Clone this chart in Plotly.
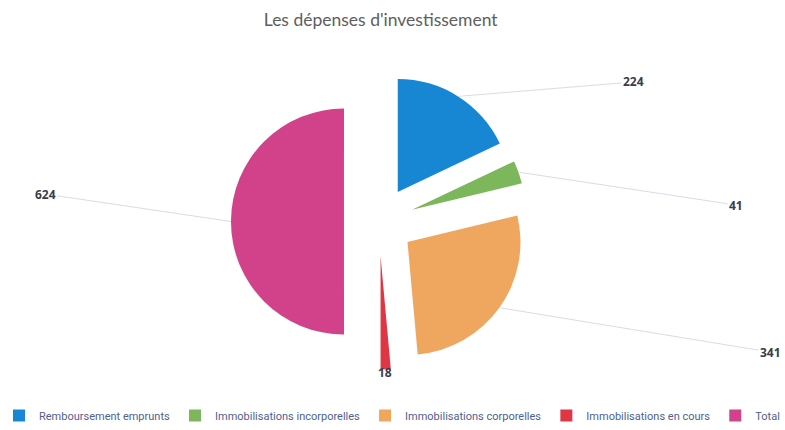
import math
import plotly.graph_objects as go

# ---- data ----
categories = ["Remboursement emprunts", "Immobilisations incorporelles",
              "Immobilisations corporelles", "Immobilisations en cours", "Total"]
values = [224, 41, 341, 18, 624]

# ---- style ----
colors = ["#1786D3", "#7DB75C", "#EFA65E", "#DE3645", "#D1428A"]
W, H = 785, 430
MB = 26                   # bottom margin (legend lives there)
HP = H - MB               # plot-area height
CX, CY = 379, 221.5       # pie centre (px from top-left)
R = 113                   # pie radius (px)
PULL = 0.31
label_pos = [(633, 82), (736, 205), (770, 352), (385, 383), (45, 194)]
show_line = [True, True, True, False, True]

half = R * (1 + PULL)
domain_x = [(CX - half) / W, (CX + half) / W]
domain_y = [(HP - CY - half) / HP, (HP - CY + half) / HP]

fig = go.Figure(go.Pie(
    labels=categories, values=values, sort=False, direction="clockwise",
    rotation=0, pull=[PULL] * len(values), textinfo="none",
    marker=dict(colors=colors, line=dict(width=0)),
    domain=dict(x=domain_x, y=domain_y), hoverinfo="label+value",
))

# leader lines + value labels, anchored on each slice's mid-angle
total = sum(values)
cum = 0
annotations = []
for v, (lx, ly), line in zip(values, label_pos, show_line):
    mid = (cum + v / 2) / total * 2 * math.pi
    cum += v
    dx, dy = math.sin(mid), -math.cos(mid)
    ex = CX + dx * R * (1 + PULL)
    ey = CY + dy * R * (1 + PULL)
    font = dict(family="Open Sans", size=12, color="#3A3D4D", weight="bold")
    if line:
        annotations.append(dict(
            x=ex / W, y=(HP - ey) / HP, xref="paper", yref="paper",
            ax=lx - ex, ay=ly - ey, axref="pixel", ayref="pixel",
            text=str(v), showarrow=True, arrowhead=0, arrowwidth=1,
            arrowcolor="#D8DCE8", standoff=0, font=font,
        ))
    else:
        annotations.append(dict(
            x=lx / W, y=(HP - ly) / HP, xref="paper", yref="paper",
            text=str(v), showarrow=False, font=font,
        ))

fig.update_layout(
    width=W, height=H,
    margin=dict(l=0, r=0, t=0, b=MB),
    paper_bgcolor="white", plot_bgcolor="white",
    title=dict(text="Les dépenses d'investissement", x=0.485, xanchor="center",
               y=1 - 20 / H, yanchor="middle", yref="container",
               font=dict(family="Lato", size=17.5, color="#5E5E5E")),
    legend=dict(orientation="h", x=0.485, xanchor="center", y=-MB / HP,
                yanchor="bottom",
                font=dict(family="Roboto", size=11, color="#4F6193"),
                itemwidth=30, traceorder="normal"),
    annotations=annotations,
)

fig.write_html("out.html", config={"displayModeBar": False},
               post_script="document.body.style.margin='0';"
                           "document.body.style.overflow='hidden';")
